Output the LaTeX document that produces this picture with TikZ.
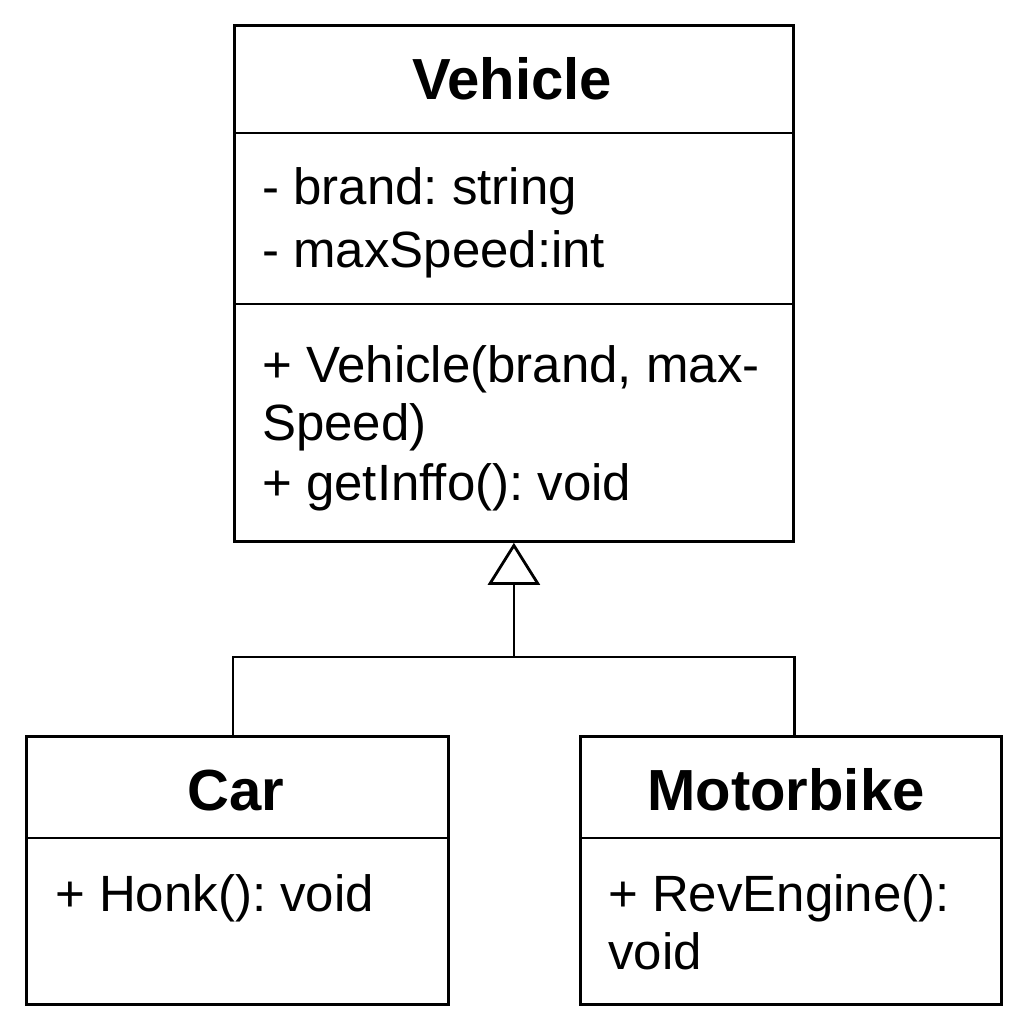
\documentclass[tikz,border=0pt]{standalone}
\usepackage{fontspec}
\setmainfont{Liberation Sans}
\usetikzlibrary{arrows.meta}
\begin{document}
\frenchspacing
\begin{tikzpicture}[x=1pt,y=-1pt,
  box/.style={draw, line width=2.8pt, rectangle, inner sep=0pt, anchor=north west},
  divider/.style={line width=2.8pt},
  conn/.style={line width=2.8pt},
  title/.style={inner sep=0pt, anchor=base, font=\fontsize{58}{64}\selectfont\bfseries},
  body/.style={inner sep=0pt, anchor=base west, font=\fontsize{51}{58}\selectfont\frenchspacing}]
\useasboundingbox (0,0) rectangle (1024,1024);
% boxes
\node[box, minimum width=559pt, minimum height=516pt] (veh) at (233,24) {};
\node[box, minimum width=422pt, minimum height=268pt] (car) at (25,735) {};
\node[box, minimum width=421pt, minimum height=268pt] (mb) at (579,735) {};
% dividers
\draw[divider] (233,133) -- (792,133);
\draw[divider] (233,304) -- (792,304);
\draw[divider] (25,838) -- (447,838);
\draw[divider] (579,838) -- (1000,838);
% texts
\node[title] (vt) at (512,100) {Vehicle};
\node[body] (va1) at (262,205) {- brand: string};
\node[body] (va2) at (262,267) {- maxSpeed:int};
\node[body] (vm1) at (262,382) {+ Vehicle(brand, max-};
\node[body] (vm2) at (262,440) {Speed)};
\node[body] (vm3) at (262,500) {+ getInffo(): void};
\node[title] (ct) at (236,810) {Car};
\node[body] (cm1) at (55,911) {+ Honk(): void};
\node[title] (mt) at (786,810) {Motorbike};
\node[body] (mm1) at (608,911) {+ RevEngine():};
\node[body] (mm2) at (608,969) {void};
% connectors
\coordinate (jj) at (veh.south |- 0,657);
\coordinate (cl) at (veh.south west |- car.north);
\coordinate (ml) at (veh.south east |- mb.north);
\draw[conn] (cl) |- (jj) -| (ml);
\draw[conn, -{Triangle[open, length=42pt, width=52pt, line width=2.8pt]}] (jj) -- (veh.south);
\end{tikzpicture}
\end{document}
